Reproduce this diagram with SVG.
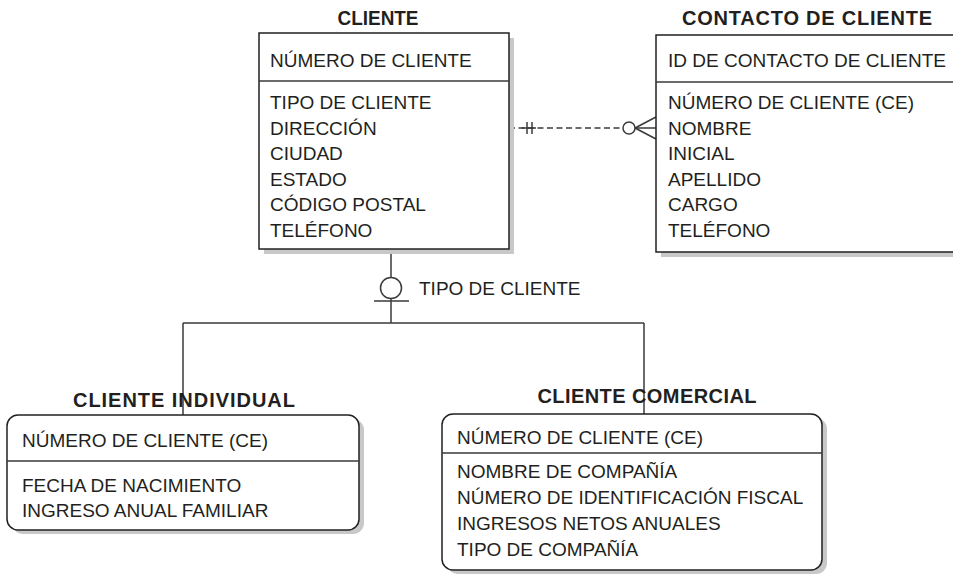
<svg xmlns="http://www.w3.org/2000/svg" width="953" height="575" viewBox="0 0 953 575">
<style>
.t{font-family:"Liberation Sans",Arial,sans-serif;font-size:19px;fill:#231f20}
.h{font-family:"Liberation Sans",Arial,sans-serif;font-size:20px;font-weight:bold;fill:#231f20;text-anchor:middle}
.box{fill:#fff;stroke:#231f20;stroke-width:1.5}
.sh{fill:#c8c8c8}
.ln{stroke:#3a3a3a;stroke-width:1.5;fill:none}
.cw{stroke:#3a3a3a;stroke-width:1.5;fill:#fff}
</style>
<rect width="953" height="575" fill="#fff"/>
<g id="connectors">
<line class="ln" x1="391" y1="249" x2="391" y2="323"/>
<circle class="cw" cx="391" cy="288" r="10.5"/>
<line class="ln" x1="374" y1="301" x2="409" y2="301"/>
<text class="t" x="419" y="295">TIPO DE CLIENTE</text>
<line class="ln" x1="183" y1="323" x2="644" y2="323"/>
<line class="ln" x1="183" y1="323" x2="183" y2="415"/>
<line class="ln" x1="644" y1="323" x2="644" y2="414"/>
<line class="ln" x1="509" y1="128" x2="623" y2="128" stroke-dasharray="6 3.5"/>
<line class="ln" x1="522" y1="128" x2="536" y2="128"/>
<line class="ln" x1="527" y1="122" x2="527" y2="134"/>
<line class="ln" x1="532" y1="122" x2="532" y2="134"/>
<circle class="cw" cx="629" cy="128" r="6"/>
<line class="ln" x1="635" y1="128" x2="656" y2="117"/>
<line class="ln" x1="635" y1="128" x2="656" y2="139"/>
<line class="ln" x1="635" y1="128" x2="656" y2="128"/>
</g>
<g id="cliente">
<rect class="sh" x="264" y="38" width="250" height="216"/>
<rect class="box" x="259" y="33" width="250" height="216"/>
<line class="ln" x1="259" y1="81" x2="509" y2="81"/>
<text class="h" x="378" y="25" textLength="81" lengthAdjust="spacingAndGlyphs">CLIENTE</text>
<text class="t" x="270" y="67">NÚMERO DE CLIENTE</text>
<text class="t" x="270" y="109">TIPO DE CLIENTE</text>
<text class="t" x="270" y="134.5">DIRECCIÓN</text>
<text class="t" x="270" y="160">CIUDAD</text>
<text class="t" x="270" y="185.5">ESTADO</text>
<text class="t" x="270" y="211">CÓDIGO POSTAL</text>
<text class="t" x="270" y="236.5">TELÉFONO</text>
</g>
<g id="contacto">
<rect class="sh" x="661" y="40" width="300" height="217"/>
<rect class="box" x="656" y="35" width="300" height="217"/>
<line class="ln" x1="656" y1="82" x2="953" y2="82"/>
<text class="h" x="807" y="25" textLength="250">CONTACTO DE CLIENTE</text>
<text class="t" x="668" y="67">ID DE CONTACTO DE CLIENTE</text>
<text class="t" x="668" y="109">NÚMERO DE CLIENTE (CE)</text>
<text class="t" x="668" y="134.5">NOMBRE</text>
<text class="t" x="668" y="160">INICIAL</text>
<text class="t" x="668" y="185.5">APELLIDO</text>
<text class="t" x="668" y="211">CARGO</text>
<text class="t" x="668" y="236.5">TELÉFONO</text>
</g>
<g id="individual">
<rect class="sh" x="12" y="419" width="352" height="115" rx="11"/>
<rect class="box" x="7" y="415" width="352" height="115" rx="11"/>
<line class="ln" x1="7" y1="461" x2="359" y2="461"/>
<text class="h" x="184" y="407" textLength="222">CLIENTE INDIVIDUAL</text>
<text class="t" x="22" y="447">NÚMERO DE CLIENTE (CE)</text>
<text class="t" x="22" y="492">FECHA DE NACIMIENTO</text>
<text class="t" x="22" y="517">INGRESO ANUAL FAMILIAR</text>
</g>
<g id="comercial">
<rect class="sh" x="447" y="418" width="380" height="156" rx="11"/>
<rect class="box" x="442" y="414" width="380" height="156" rx="11"/>
<line class="ln" x1="442" y1="453" x2="822" y2="453"/>
<text class="h" x="647" y="403" textLength="219">CLIENTE COMERCIAL</text>
<text class="t" x="457" y="444">NÚMERO DE CLIENTE (CE)</text>
<text class="t" x="457" y="478">NOMBRE DE COMPAÑÍA</text>
<text class="t" x="457" y="504">NÚMERO DE IDENTIFICACIÓN FISCAL</text>
<text class="t" x="457" y="530">INGRESOS NETOS ANUALES</text>
<text class="t" x="457" y="556">TIPO DE COMPAÑÍA</text>
</g>
</svg>
